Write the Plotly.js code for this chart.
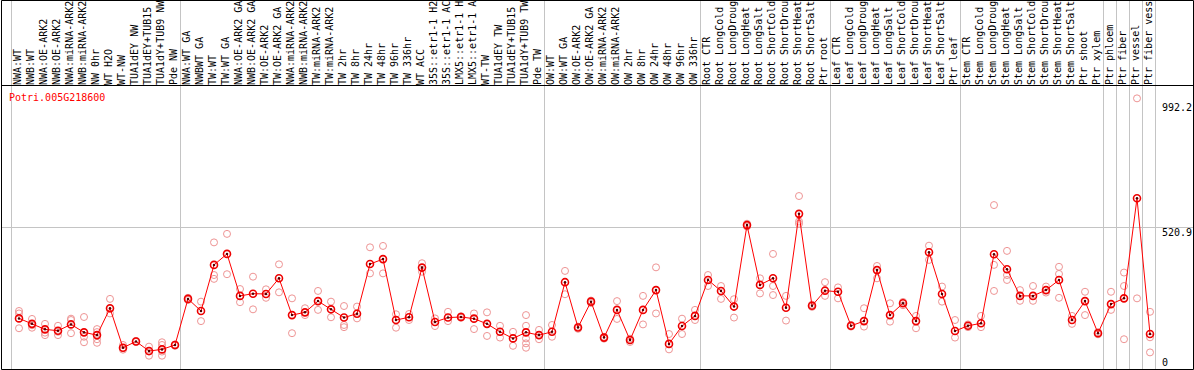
<!DOCTYPE html>
<html>
<head>
<meta charset="utf-8">
<script src="https://cdn.plot.ly/plotly-3.0.1.min.js"></script>
<style>html,body{margin:0;padding:0;background:#fff;}#chart{width:1194px;height:370px;}</style>
</head>
<body>
<div id="chart"></div>
<script>
const geneId = "Potri.005G218600";

const categories = [
"NWA:WT","NWB:WT","NWA:OE-ARK2","NWB:OE-ARK2","NWA:miRNA-ARK2","NWB:miRNA-ARK2","NW 0hr","WT H2O","WT-NW","TUA1dEY NW","TUA1dEY+TUB15 NW","TUA1dY+TUB9 NW","Pde NW",
"NWA:WT GA","NWBWT GA","TW:WT","TW:WT GA","NWA:OE-ARK2 GA","NWB:OE-ARK2 GA","TW:OE-ARK2","TW:OE-ARK2 GA","NWA:miRNA-ARK2","NWB:miRNA-ARK2","TW:miRNA-ARK2","TW:miRNA-ARK2","TW 2hr","TW 8hr","TW 24hr","TW 48hr","TW 96hr","TW 336hr","WT ACC","35S::etr1-1 H2O","35S::etr1-1 ACC","LMX5::etr1-1 H2O","LMX5::etr1-1 ACC","WT-TW","TUA1dEY TW","TUA1dEY+TUB15 TW","TUA1dY+TUB9 TW","Pde TW",
"OW:WT","OW:WT GA","OW:OE-ARK2","OW:OE-ARK2 GA","OW:miRNA-ARK2","OW:miRNA-ARK2","OW 2hr","OW 8hr","OW 24hr","OW 48hr","OW 96hr","OW 336hr",
"Root CTR","Root LongCold","Root LongDrought","Root LongHeat","Root LongSalt","Root ShortCold","Root ShortDrought","Root ShortHeat","Root ShortSalt","Ptr root",
"Leaf CTR","Leaf LongCold","Leaf LongDrought","Leaf LongHeat","Leaf LongSalt","Leaf ShortCold","Leaf ShortDrought","Leaf ShortHeat","Leaf ShortSalt","Ptr leaf",
"Stem CTR","Stem LongCold","Stem LongDrought","Stem LongHeat","Stem LongSalt","Stem ShortCold","Stem ShortDrought","Stem ShortHeat","Stem ShortSalt","Ptr shoot","Ptr xylem",
"Ptr phloem","Ptr fiber","Ptr vessel","Ptr fiber vessel"
];

const meanValues = [
190,170,150,145,168,139,129,227,83,106,71,77,93,
261,217,385,425,272,280,279,336,202,212,253,223,193,207,388,406,184,194,375,177,193,195,189,170,141,117,139,129,
141,322,157,251,120,221,111,221,293,97,162,199,
330,290,233,530,312,336,229,571,236,291,
287,163,180,366,202,245,180,431,279,144,
163,172,424,369,272,272,293,330,184,253,136,
242,263,628,133
];

const replicateValues = [
[217,208,154],[188,156,165],[170,129,138],[163,129,141],[189,184,136],[195,123,103],[151,140,114,101],[261,208,225],[93,81,76],[108,104],[87,54,69],[103,93,69,54],[95,90],
[265,257],[251,180],[467,348,334],[498,351],[297,249],[342,223],[296,265],[387,285],[263,136],[227,202],[290,221],[251,194],[235,166,158],[233,190],[449,354],[454,354],[205,156],[206,184],[391,360],[190,162],[214,180],[198,192],[208,151],[212,126],[163,120],[141,90],[202,163,117,99,83],[148,114],
[166,123],[363,278],[160,152],[255,246],[123,116],[253,188],[116,104],[272,168],[376,208],[133,77],[189,133],[221,184],
[348,308],[308,261],[260,193],[535,525],[336,281],[425,308,275],[272,182],[636,543,535],[240,232],[322,272],
[303,263],[166,160],[227,160],[381,336],[245,178],[250,238],[199,154],[455,403],[306,251],[184,120],
[168,158],[199,158],[603,385,290],[436,348,330],[293,254],[308,254],[306,284],[378,352,265],[199,170],[287,202],[140,132],
[287,221],[357,308,114],[992,263],[214,121,66]
];

const groupBoundaries = [0,13,41,53,63,73,84,85,86,87,88];
const yTickValues = [992.2, 520.9, 0];
const yTickLabels = ["992.2", "520.9", "0"];

// ---- layout geometry ----
const W = 1194, H = 370;
const M = {l:2, r:1, t:86, b:1};
const plotW = W - M.l - M.r, plotH = H - M.t - M.b;
const xr = [-17/13, -17/13 + plotW/13];
const yr = [5.5, 1037];
const px2paperX = p => (p - M.l) / plotW;
const py2paperY = p => (H - M.b - p) / plotH;
const x2paper = x => (x - xr[0]) / (xr[1] - xr[0]);
const y2paperPx = v => H - M.b - (v - yr[0]) / (yr[1] - yr[0]) * plotH;

const idx = categories.map((c, i) => i);
const repX = [], repY = [];
replicateValues.forEach((arr, i) => arr.forEach(v => { repX.push(i); repY.push(v); }));

const mono = "DejaVu Sans Mono, Liberation Mono, monospace";

const traces = [
  {type:'scatter', mode:'markers', x:repX, y:repY, hoverinfo:'skip', showlegend:false,
   marker:{symbol:'circle-open', size:7, color:'#ee9494', line:{width:1, color:'#ee9494'}}},
  {type:'scatter', mode:'lines+markers', x:idx, y:meanValues, showlegend:false,
   line:{color:'#ff0000', width:1},
   marker:{symbol:'circle-open', size:7, color:'#ee0000', line:{width:1.6, color:'#ee0000'}}},
  {type:'scatter', mode:'markers', x:idx, y:meanValues, showlegend:false, hoverinfo:'skip',
   marker:{symbol:'circle', size:2.5, color:'#500000'}},
  {type:'scatter', mode:'markers', x:[0], y:[null], xaxis:'x2', showlegend:false, hoverinfo:'skip'}
];

const shapes = [];
// vertical group lines (through label band)
groupBoundaries.forEach(b => {
  const xp = x2paper(b - 0.5 - 1/13);
  shapes.push({type:'line', xref:'paper', yref:'paper', x0:xp, x1:xp, y0:py2paperY(369), y1:py2paperY(0),
    line:{color:'#c4c4c4', width:1}, layer:'below'});
});
// frame
shapes.push({type:'rect', xref:'paper', yref:'paper', x0:px2paperX(1.5), x1:px2paperX(1193.5),
  y0:py2paperY(369.5), y1:py2paperY(0.5), line:{color:'#000', width:1}, fillcolor:'rgba(0,0,0,0)'});
shapes.push({type:'line', xref:'paper', yref:'paper', x0:px2paperX(1.5), x1:px2paperX(1193.5),
  y0:py2paperY(85.5), y1:py2paperY(85.5), line:{color:'#000', width:1}});

const annotations = [
  {xref:'paper', yref:'paper', x:px2paperX(7), y:py2paperY(97), xanchor:'left', yanchor:'middle',
   text:geneId, showarrow:false, font:{family:mono, size:10, color:'#ff0000'}}
];
const yLabelPx = [107, 232, 362.5];
yTickValues.forEach((v, k) => {
  annotations.push({xref:'paper', yref:'paper', x:px2paperX(1160), y:py2paperY(yLabelPx[k]),
    xanchor:'left', yanchor:'middle', text:yTickLabels[k], showarrow:false,
    font:{family:mono, size:10, color:'#000'}});
});

const layout = {
  width:W, height:H, margin:M, paper_bgcolor:'#fff', plot_bgcolor:'#fff',
  showlegend:false, hovermode:false,
  xaxis:{range:xr, showgrid:false, zeroline:false, showticklabels:false, showline:false, ticks:''},
  xaxis2:{overlaying:'x', side:'top', anchor:'y', range:xr, showgrid:false, zeroline:false, showline:false,
    ticks:'', tickmode:'array', tickvals:idx.map(i => i - 0.115), ticktext:categories, tickangle:-90,
    tickfont:{family:mono, size:10, color:'#000'}},
  yaxis:{range:yr, showgrid:true, gridcolor:'#c4c4c4', gridwidth:1, tickmode:'array', tickvals:[520.9],
    showticklabels:false, zeroline:false, showline:false, ticks:''},
  shapes:shapes, annotations:annotations
};

Plotly.newPlot('chart', traces, layout, {staticPlot:true, displayModeBar:false});
</script>
</body>
</html>
